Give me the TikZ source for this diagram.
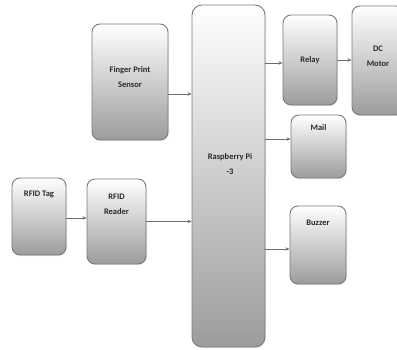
\documentclass[tikz,border=0pt]{standalone}
\usepackage{fontspec}
\setmainfont{Carlito}
\usetikzlibrary{shadows,arrows.meta}
\definecolor{edge}{HTML}{7A7A7A}
\definecolor{shadebot}{HTML}{9C9C9C}
\definecolor{txt}{HTML}{2A2A2A}
\begin{document}
\begin{tikzpicture}[x=1pt,y=-1pt,
  box/.style={draw=edge, line width=0.9pt, rounded corners=8pt,
    top color=white, bottom color=shadebot, inner sep=0pt,
    drop shadow={opacity=0.18, shadow xshift=1pt, shadow yshift=-1pt}},
  lbl/.style={font=\bfseries\fontsize{8.5}{15}\selectfont, text=txt, align=center},
  arr/.style={draw=edge!90!black, line width=0.8pt, -{Stealth[length=4pt,width=3.5pt]}}]
\useasboundingbox (0,0) rectangle (397,349);
\node[box, minimum width=76pt, minimum height=116pt] (fps) at (130,82) {};
\node[lbl] (fpst) at (130,77) {Finger Print\\Sensor};
\node[box, rounded corners=10pt, minimum width=73pt, minimum height=342pt] (pi) at (228.5,176) {};
\node[lbl] (pit) at (230,164.5) {Raspberry Pi\\-3};
\node[box, minimum width=54pt, minimum height=90pt] (relay) at (310,60) {};
\node[lbl] (relayt) at (310,60) {Relay};
\node[box, minimum width=52pt, minimum height=109pt] (dc) at (378,60.5) {};
\node[lbl] (dct) at (378,56.5) {DC\\Motor};
\node[box, minimum width=55pt, minimum height=63pt] (mail) at (318.5,146.5) {};
\node[lbl] (mailt) at (318.5,128) {Mail};
\node[box, minimum width=56pt, minimum height=78pt] (buzzer) at (318,245) {};
\node[lbl] (buzzert) at (318,223) {Buzzer};
\node[box, minimum width=54pt, minimum height=77pt] (tag) at (39,216.5) {};
\node[lbl] (tagt) at (39,194) {RFID Tag};
\node[box, minimum width=59pt, minimum height=85pt] (reader) at (116.5,221.5) {};
\node[lbl] (readert) at (116.5,204) {RFID\\Reader};
\draw[arr] ([yshift=-12pt]fps.east) -- ([yshift=-12pt]fps.east -| pi.west);
\draw[arr] ([yshift=-3pt]relay.west -| pi.east) -- ([yshift=-3pt]relay.west);
\draw[arr] (relay.east) -- (relay.east -| dc.west);
\draw[arr] ([yshift=7.5pt]mail.west -| pi.east) -- ([yshift=7.5pt]mail.west);
\draw[arr] ([yshift=-4pt]buzzer.west -| pi.east) -- ([yshift=-4pt]buzzer.west);
\draw[arr] ([yshift=-1.5pt]tag.east) -- ([yshift=-1.5pt]tag.east -| reader.west);
\draw[arr] (reader.east) -- (reader.east -| pi.west);
\end{tikzpicture}
\end{document}
